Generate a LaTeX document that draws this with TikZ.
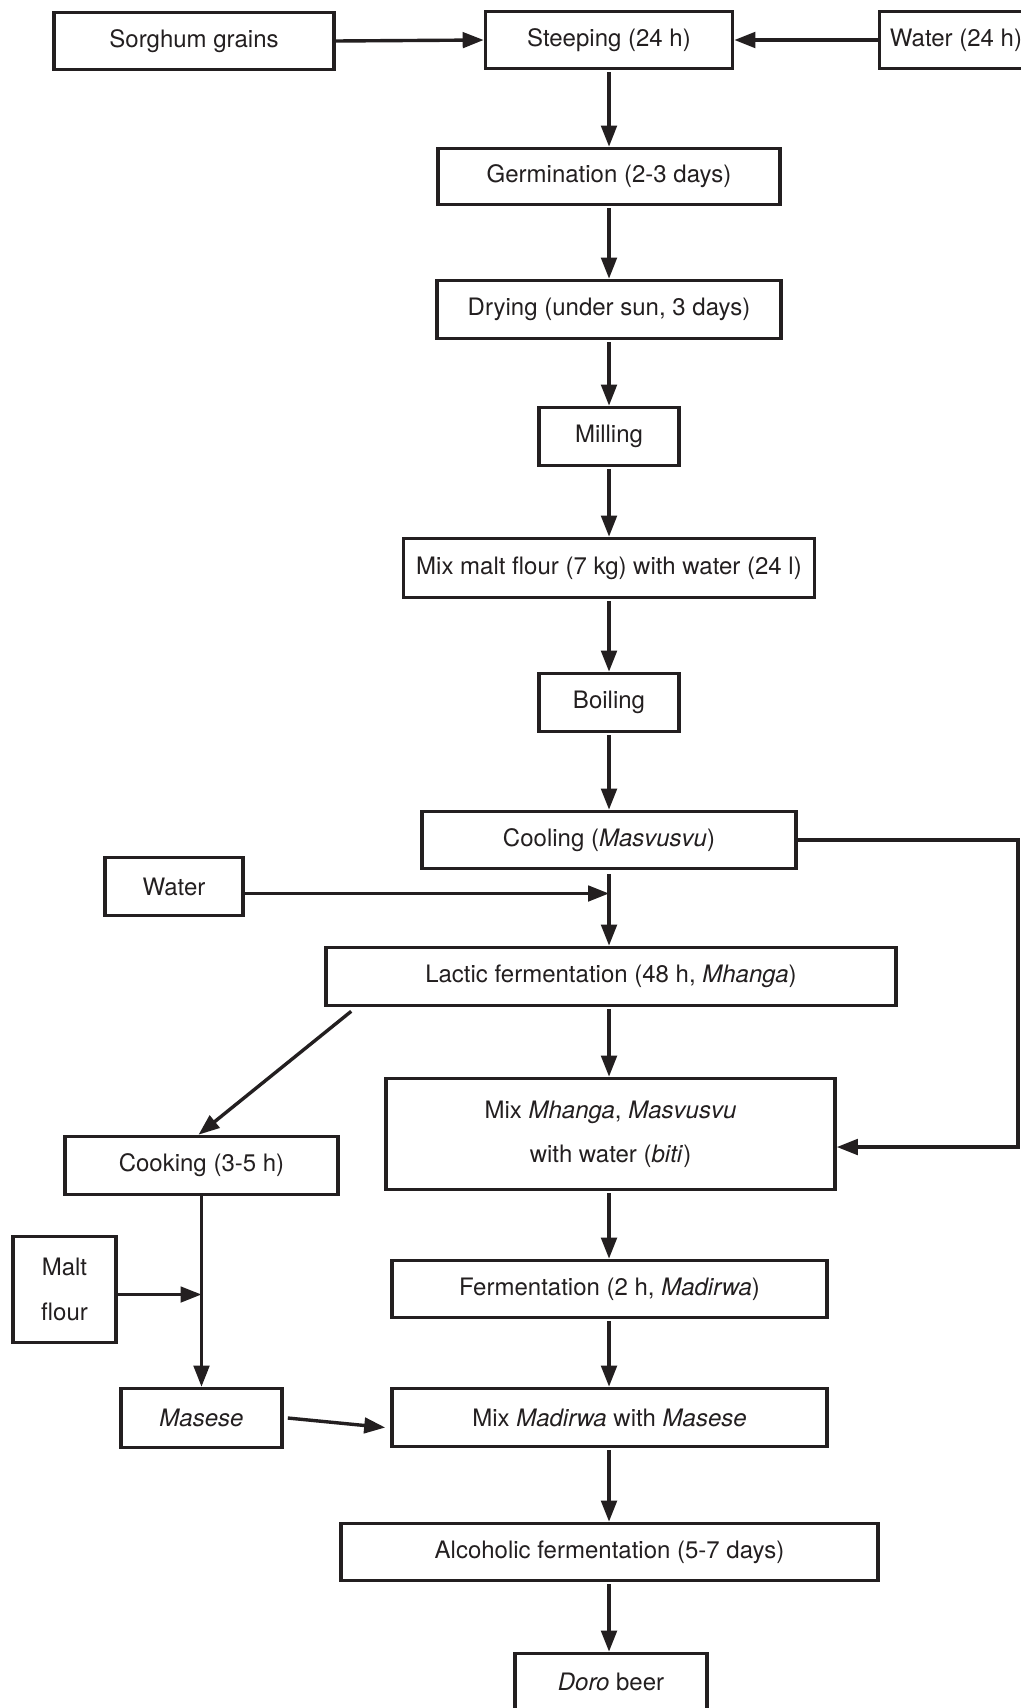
\documentclass[tikz,border=0pt]{standalone}
\usepackage{fontspec}
\setmainfont{TeX Gyre Heros}
\usetikzlibrary{arrows.meta}
\definecolor{ink}{HTML}{231F20}
\tikzset{
  boxnode/.style={draw=ink, line width=3.6pt, inner sep=0pt, align=center,
    font=\fontsize{24}{29}\selectfont, text=ink},
  arr/.style={draw=ink, line width=3.4pt, -{Triangle[length=21pt,width=15.5pt]}},
}
\begin{document}
\begin{tikzpicture}[x=1pt,y=-1pt]
\useasboundingbox (0,0) rectangle (1020,1708);
\fill[white] (0,0) rectangle (1020,1708);
% nodes
\node[boxnode, minimum width=280pt, minimum height=57pt] (sorg) at (194,41) {Sorghum grains};
\node[boxnode, minimum width=247pt, minimum height=57pt] (steep) at (609,40) {Steeping (24 h)};
\node[boxnode, minimum width=153pt, minimum height=57pt] (w24) at (956,40) {Water (24 h)};
\node[boxnode, minimum width=342pt, minimum height=56pt] (germ) at (609,176.5) {Germination (2-3 days)};
\node[boxnode, minimum width=344pt, minimum height=58pt] (dry) at (609,309.5) {Drying (under sun, 3 days)};
\node[boxnode, minimum width=140pt, minimum height=58pt] (mill) at (609,436.5) {Milling};
\node[boxnode, minimum width=411pt, minimum height=59pt] (mixmalt) at (609,568) {Mix malt flour (7 kg) with water (24 l)};
\node[boxnode, minimum width=140pt, minimum height=58pt] (boil) at (609,702.5) {Boiling};
\node[boxnode, minimum width=374pt, minimum height=57pt] (cool) at (609,840) {Cooling (\textit{Masvusvu})};
\node[boxnode, minimum width=138pt, minimum height=58pt] (water) at (174,886.5) {Water};
\node[boxnode, minimum width=570pt, minimum height=58pt] (lactic) at (611,976.5) {Lactic fermentation (48 h, \textit{Mhanga})};
\node[boxnode, minimum width=449pt, minimum height=111pt] (mixmh) at (610.5,1134) {Mix \textit{Mhanga}, \textit{Masvusvu}\\[15pt]with water (\textit{biti})};
\node[boxnode, minimum width=273pt, minimum height=58pt] (cook) at (201.5,1165.5) {Cooking (3-5 h)};
\node[boxnode, minimum width=103pt, minimum height=106pt] (malt) at (64.5,1289.5) {Malt\\[16pt]flour};
\node[boxnode, minimum width=435pt, minimum height=57pt] (ferm) at (609.5,1289) {Fermentation (2 h, \textit{Madirwa})};
\node[boxnode, minimum width=161pt, minimum height=59pt] (masese) at (201.5,1418) {\textit{Masese}};
\node[boxnode, minimum width=435pt, minimum height=58pt] (mixmad) at (609.5,1417.5) {Mix \textit{Madirwa} with \textit{Masese}};
\node[boxnode, minimum width=537pt, minimum height=57pt] (alc) at (609.5,1552) {Alcoholic fermentation (5-7 days)};
\node[boxnode, minimum width=192pt, minimum height=57pt] (doro) at (611,1682) {\textit{Doro} beer};
% connectors
\coordinate (ax) at (609,0);
\draw[arr] (sorg.east) -- (steep.west);
\draw[arr] (w24.west) -- (steep.east);
\draw[arr] ([yshift=-2pt]steep.south) -- (steep.south |- germ.north);
\draw[arr] ([yshift=-2pt]germ.south) -- (germ.south |- dry.north);
\draw[arr] ([yshift=-2pt]dry.south) -- (dry.south |- mill.north);
\draw[arr] ([yshift=-2pt]mill.south) -- (mill.south |- mixmalt.north);
\draw[arr] ([yshift=-2pt]mixmalt.south) -- (mixmalt.south |- boil.north);
\draw[arr] ([yshift=-2pt]boil.south) -- (boil.south |- cool.north);
\draw[arr] ([yshift=-4pt]cool.south) -- (cool.south |- lactic.north);
\draw[arr] ([yshift=-7pt]water.east) -- ([yshift=-7pt]water.east -| cool.south);
\draw[arr] ([yshift=-2pt]lactic.south -| ax) -- (ax |- mixmh.north);
\coordinate (fb) at (1018,1147);
\draw[arr] (cool.east) -| (fb) -- (fb -| mixmh.east);
\draw[arr] ([xshift=27pt,yshift=-4pt]lactic.south west) -- ([xshift=-3pt]cook.north);
\draw[arr] (cook.south) -- (cook.south |- masese.north);
\draw[arr] ([yshift=-5pt]malt.east) -- ([yshift=-5pt]malt.east -| cook.south);
\draw[arr] ([xshift=4pt]masese.east) -- ([xshift=-5pt,yshift=-10pt]mixmad.west);
\draw[arr] ([yshift=-2pt]mixmh.south -| ax) -- (ax |- ferm.north);
\draw[arr] ([yshift=-2pt]ferm.south -| ax) -- (ax |- mixmad.north);
\draw[arr] ([yshift=-2pt]mixmad.south -| ax) -- (ax |- alc.north);
\draw[arr] ([yshift=-2pt]alc.south -| ax) -- (ax |- doro.north);
\end{tikzpicture}
\end{document}
